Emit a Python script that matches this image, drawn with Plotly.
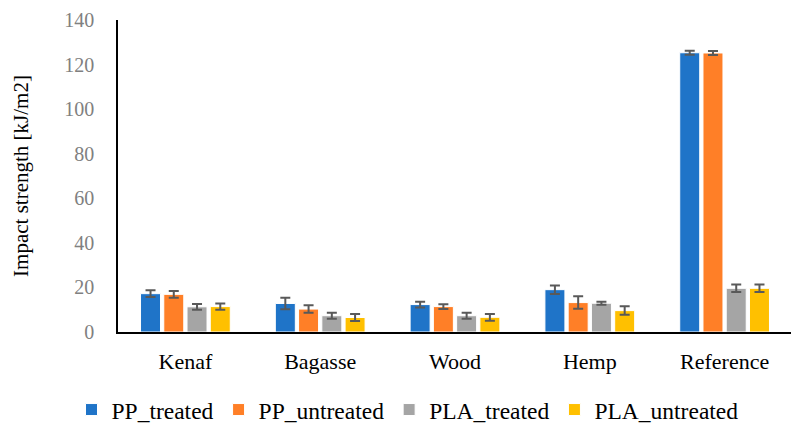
import plotly.graph_objs as go

categories = ["Kenaf", "Bagasse", "Wood", "Hemp", "Reference"]

pp_treated = [17.2, 12.8, 12.3, 19.0, 125.3]
pp_treated_err = [1.5, 2.6, 1.3, 1.9, 0.9]

pp_untreated = [16.9, 10.3, 11.4, 13.2, 125.2]
pp_untreated_err = [1.5, 1.7, 1.1, 2.8, 0.9]

pla_treated = [11.3, 7.3, 7.3, 12.9, 19.6]
pla_treated_err = [1.3, 1.3, 1.3, 0.7, 1.7]

pla_untreated = [11.4, 6.5, 6.6, 9.6, 19.6]
pla_untreated_err = [1.4, 1.6, 1.5, 1.9, 1.7]

series = [
    ("PP_treated", pp_treated, pp_treated_err, "#1F74C8"),
    ("PP_untreated", pp_untreated, pp_untreated_err, "#FF7F27"),
    ("PLA_treated", pla_treated, pla_treated_err, "#A5A5A5"),
    ("PLA_untreated", pla_untreated, pla_untreated_err, "#FFC000"),
]

font = "Liberation Serif"
fsize = 22

fig = go.Figure()

for name, vals, errs, color in series:
    fig.add_trace(
        go.Bar(
            x=categories,
            y=vals,
            name=name,
            marker=dict(color=color, line=dict(color="white", width=1)),
            error_y=dict(type="data", array=errs, visible=True,
                         color="#595959", thickness=2, width=5),
        )
    )

# page body adds ~8px offset, margins compensate for it
fig.update_layout(
    width=799,
    height=432,
    margin=dict(l=110, r=15, t=12, b=108),
    plot_bgcolor="white",
    paper_bgcolor="white",
    barmode="group",
    bargap=0.31,
    bargroupgap=0.14,
    font=dict(family=font, size=fsize, color="black"),
    legend=dict(
        orientation="h",
        x=0.5,
        xref="container",
        xanchor="center",
        y=0.07,
        yref="container",
        yanchor="middle",
        font=dict(size=23.5),
        itemwidth=30,
        traceorder="normal",
    ),
    showlegend=True,
)

fig.update_xaxes(
    showline=True,
    linecolor="black",
    linewidth=2,
    ticks="",
    automargin=False,
    ticklabelstandoff=9,
    tickfont=dict(size=fsize, color="black"),
)

fig.update_yaxes(
    range=[0, 140],
    dtick=20,
    showgrid=False,
    zeroline=False,
    showline=True,
    linecolor="black",
    linewidth=1.5,
    ticks="",
    automargin=False,
    ticklabeloverflow="allow",
    ticklabelstandoff=18,
    tickfont=dict(size=20, color="#808080"),
    title=dict(text="Impact strength [kJ/m2]", font=dict(size=21, color="black"), standoff=30),
)

fig.write_html("out.html")
